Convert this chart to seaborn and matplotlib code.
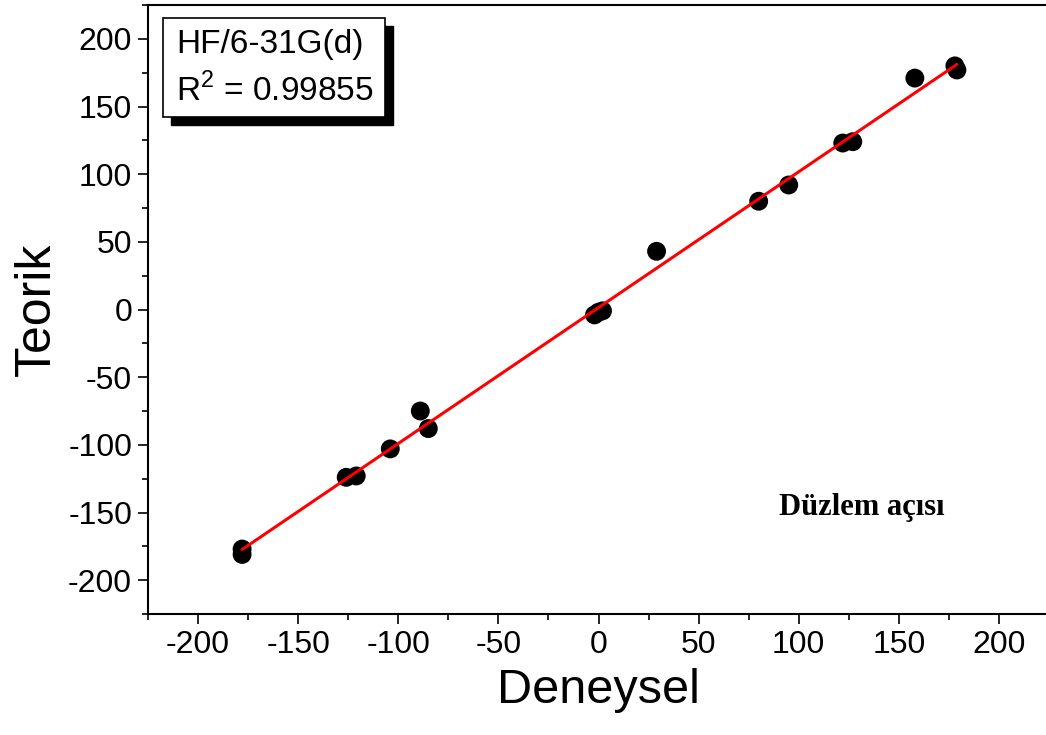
import numpy as np
import pandas as pd
import matplotlib
matplotlib.use("Agg")
import matplotlib.pyplot as plt
from matplotlib.patches import Rectangle
from matplotlib.ticker import MultipleLocator
import seaborn as sns

# Experimental vs. calculated dihedral angles (degrees)
deneysel = [-178, -178, -126, -121, -104, -89, -85, -2, 2, 0, 29, 80, 95, 122, 127, 158, 178, 179]
teorik = [-177, -181, -124, -123, -103, -75, -88, -4, -1, -2, 43, 80, 92, 123, 124, 171, 180, 177]

method_label = "HF/6-31G(d)"
r2_label = "R$^{\\mathregular{2}}$ = 0.99855"
note_label = "Düzlem açısı"
x_ticks = [-200, -150, -100, -50, 0, 50, 100, 150, 200]
y_ticks = [-200, -150, -100, -50, 0, 50, 100, 150, 200]

df = pd.DataFrame({"Deneysel": deneysel, "Teorik": teorik})

sns.set_style("white")
plt.rcParams["font.family"] = ["Liberation Sans", "DejaVu Sans"]
plt.rcParams["axes.unicode_minus"] = False
plt.rcParams["text.color"] = "black"
plt.rcParams["axes.labelcolor"] = "black"
plt.rcParams["xtick.color"] = "black"
plt.rcParams["ytick.color"] = "black"
plt.rcParams["mathtext.fontset"] = "custom"
plt.rcParams["mathtext.rm"] = "Liberation Sans"

W, H = 1046, 735
fig = plt.figure(figsize=(W / 100, H / 100), dpi=100)
ax = fig.add_axes([148 / W, (H - 614) / H, 901 / W, 609 / H])

sns.scatterplot(data=df, x="Deneysel", y="Teorik", color="black", s=185,
                edgecolor="none", ax=ax, zorder=2)
sns.regplot(data=df, x="Deneysel", y="Teorik", scatter=False, ci=None,
            truncate=True, color="red", line_kws={"linewidth": 2.2, "zorder": 3},
            ax=ax)

ax.set_xlim(-225, 225)
ax.set_ylim(-225, 225)
ax.set_xticks(x_ticks)
ax.set_yticks(y_ticks)
ax.xaxis.set_minor_locator(MultipleLocator(25))
ax.yaxis.set_minor_locator(MultipleLocator(25))
ax.tick_params(axis="both", which="major", direction="out", length=7.5, width=1.2,
               labelsize=23, color="black", labelcolor="black",
               bottom=True, left=True, pad=4)
ax.tick_params(axis="both", which="minor", direction="out", length=4, width=1.2,
               color="black", bottom=True, left=True)

for side in ["left", "bottom", "top"]:
    ax.spines[side].set_visible(True)
    ax.spines[side].set_color("black")
    ax.spines[side].set_linewidth(1.5)
ax.spines["right"].set_visible(False)

ax.set_xlabel("Deneysel", fontsize=35, labelpad=6, color="black")
ax.set_ylabel("Teorik", fontsize=36, labelpad=6, color="black")

# Method / correlation box with a drop shadow
bx0, by0, bx1, by1 = 163, 18, 385, 117
sh = 8
fig.patches.append(Rectangle(((bx0 + sh) / W, (H - by1 - sh) / H), (bx1 - bx0) / W,
                             (by1 - by0) / H, transform=fig.transFigure,
                             facecolor="black", edgecolor="black", zorder=5))
fig.patches.append(Rectangle((bx0 / W, (H - by1) / H), (bx1 - bx0) / W,
                             (by1 - by0) / H, transform=fig.transFigure,
                             facecolor="white", edgecolor="black", linewidth=1.2,
                             zorder=6))
fig.text(176 / W, (H - 45) / H, method_label, fontsize=24, ha="left", va="center",
         color="black", zorder=7)
fig.text(176 / W, (H - 90) / H, r2_label, fontsize=24, ha="left", va="center",
         color="black", zorder=7)

fig.text(862 / W, (H - 507) / H, note_label, ha="center", va="center",
         fontsize=22, fontweight="bold", color="black",
         family=["Liberation Serif", "DejaVu Serif"])

fig.savefig("out.png", dpi=100)
